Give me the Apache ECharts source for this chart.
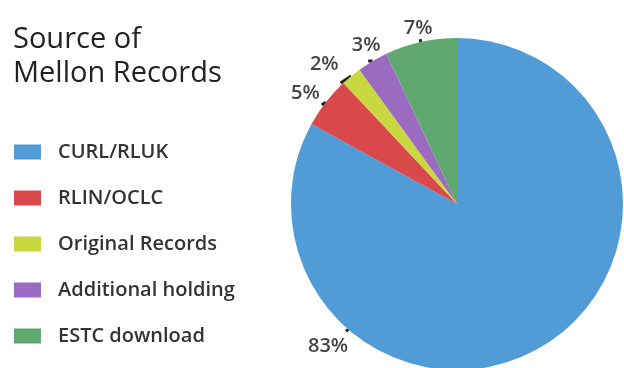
<!DOCTYPE html>
<html>
<head>
<meta charset="utf-8">
<script src="https://cdn.jsdelivr.net/npm/echarts@6/dist/echarts.min.js"></script>
<style>html,body{margin:0;padding:0;background:#fff}#c{width:624px;height:368px}</style>
</head>
<body>
<div id="c"></div>
<script>
const categories = ['CURL/RLUK', 'RLIN/OCLC', 'Original Records', 'Additional holding', 'ESTC download'];
const values = [83, 5, 2, 3, 7];
const colors = ['#519bd7', '#d9484b', '#c9d740', '#9b6bc2', '#5fa96f'];
const titleText = 'Source of\nMellon Records';

const CX = 457, CY = 204, R = 166;
const labelAlign = ['right', 'right', 'right', 'center', 'center'];
const labelVAlign = ['top', 'bottom', 'bottom', 'bottom', 'bottom'];
const labelLift = [0, 2, 9, 6, 1];
// angle (deg, clockwise from top) of the 83% label's leader dot
const bigLabelAngle = 221;

const chart = echarts.init(document.getElementById('c'), null, {renderer: 'canvas'});
chart.setOption({
  animation: false,
  backgroundColor: '#fff',
  color: colors,
  title: {
    text: titleText,
    left: 8,
    top: 18,
    textStyle: {fontFamily: 'Open Sans', fontSize: 29, fontWeight: 'normal', color: '#222', lineHeight: 34}
  },
  legend: {
    orient: 'vertical',
    left: 9,
    top: 137,
    itemWidth: 27,
    itemHeight: 15,
    itemGap: 26,
    icon: 'rect',
    data: categories,
    textStyle: {fontFamily: 'Open Sans', fontSize: 20, fontWeight: 600, color: '#333', lineHeight: 20, padding: [0, 0, 0, 12]}
  },
  series: [{
    type: 'pie',
    center: [CX, CY],
    radius: R,
    startAngle: 90,
    clockwise: true,
    data: categories.map((c, i) => ({name: c, value: values[i]})),
    label: {
      show: true,
      position: 'outside',
      formatter: '{c}%',
      fontFamily: 'Open Sans',
      fontSize: 20,
      fontWeight: 600,
      color: '#444',
      distanceToLabelLine: 2
    },
    labelLine: {show: true, length: 3, length2: 0, lineStyle: {color: '#222', width: 3}},
    labelLayout: function (p) {
      const i = p.dataIndex;
      if (i === 0) {
        const a = bigLabelAngle * Math.PI / 180;
        const ex = CX + R * Math.sin(a), ey = CY - R * Math.cos(a);
        const ox = CX + (R + 3) * Math.sin(a), oy = CY - (R + 3) * Math.cos(a);
        return {x: ox + 2, y: oy + 5, align: 'right', verticalAlign: 'top', labelLinePoints: [[ex, ey], [ox, oy], [ox, oy]]};
      }
      return {dy: -labelLift[i], align: labelAlign[i], verticalAlign: labelVAlign[i]};
    },
    itemStyle: {borderWidth: 0}
  }]
});
</script>
</body>
</html>
